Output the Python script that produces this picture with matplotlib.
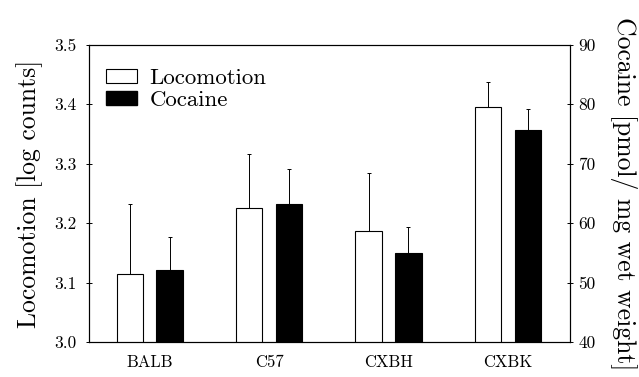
import matplotlib
matplotlib.use("Agg")
import matplotlib.pyplot as plt
import numpy as np
from matplotlib.patches import Patch

plt.rcParams['font.family'] = ['cmr10', 'DejaVu Serif']
plt.rcParams['axes.formatter.use_mathtext'] = True

strains = ["BALB", "C57", "CXBH", "CXBK"]
locomotion = [3.114, 3.225, 3.187, 3.396]
locomotion_err = [0.119, 0.091, 0.098, 0.042]
cocaine = [52.1, 63.2, 55.0, 75.7]
cocaine_err = [5.5, 5.9, 4.4, 3.5]

left_ticks = [3.0, 3.1, 3.2, 3.3, 3.4, 3.5]
right_ticks = [40, 50, 60, 70, 80, 90]

fig = plt.figure(figsize=(6.39, 3.77), dpi=100)
ax = fig.add_axes([0.139, 0.093, 0.753, 0.788])
ax2 = ax.twinx()

x = np.arange(len(strains))
w = 0.222
off = 0.167

ax.bar(x - off, locomotion, w, color="white", edgecolor="black", linewidth=0.8, zorder=2)
ax.errorbar(x - off, locomotion, yerr=[np.zeros(len(x)), locomotion_err], fmt="none",
            ecolor="black", elinewidth=0.7, capsize=1.5, capthick=0.7, zorder=3)
ax2.bar(x + off, cocaine, w, color="black", edgecolor="black", linewidth=0.8, zorder=2)
ax2.errorbar(x + off, cocaine, yerr=[np.zeros(len(x)), cocaine_err], fmt="none",
             ecolor="black", elinewidth=0.7, capsize=1.5, capthick=0.7, zorder=3)

ax.set_xlim(-0.51, 3.52)
ax.set_ylim(3.0, 3.5)
ax2.set_ylim(40, 90)
ax.set_yticks(left_ticks)
ax.set_yticklabels([f"{t:.1f}" for t in left_ticks], fontsize=12.5)
ax2.set_yticks(right_ticks)
ax2.set_yticklabels([str(t) for t in right_ticks], fontsize=12.5)
ax.set_xticks(x)
ax.set_xticklabels(strains, fontsize=12)
ax.tick_params(axis="x", length=0, pad=9)
ax.tick_params(axis="y", direction="inout", length=4, width=0.7, pad=7)
ax2.tick_params(axis="y", direction="inout", length=4, width=0.7, pad=4)

for a in (ax, ax2):
    for s in a.spines.values():
        s.set_linewidth(0.8)

ax.set_ylabel("Locomotion [log counts]", fontsize=18.5, labelpad=8)
ax2.set_ylabel("Cocaine [pmol/ mg wet weight]", fontsize=18.5, rotation=-90, labelpad=30)

handles = [Patch(facecolor="white", edgecolor="black", linewidth=0.8),
           Patch(facecolor="black", edgecolor="black")]
ax.legend(handles, ["Locomotion", "Cocaine"], loc="upper left", frameon=False,
          fontsize=16.5, handlelength=1.35, handleheight=0.52, handletextpad=0.57,
          borderpad=0, borderaxespad=0, bbox_to_anchor=(0.035, 0.92), labelspacing=0.1)

fig.savefig("out.png", dpi=100)
